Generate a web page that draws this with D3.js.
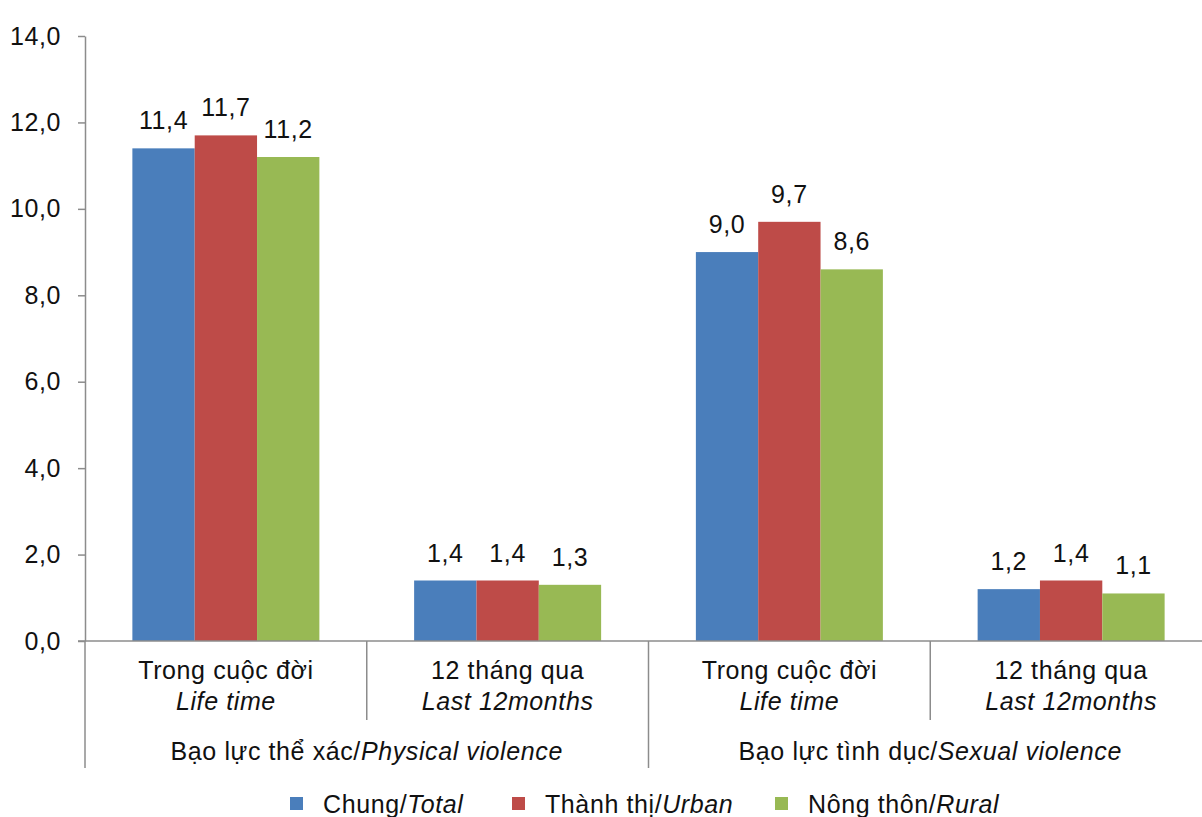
<!DOCTYPE html>
<html>
<head>
<meta charset="utf-8">
<script src="https://cdn.jsdelivr.net/npm/d3@7/dist/d3.min.js"></script>
<style>
  html, body { margin: 0; padding: 0; background: #fff; }
  svg { display: block; font-family: "Liberation Sans", Arial, sans-serif; }
  text { fill: #111; letter-spacing: 0.6px; }
</style>
</head>
<body>
<svg id="chart" width="1202" height="817"></svg>
<script>
// Violence prevalence (%), by period and area
const groups = [
  { vi: "Bạo lực thể xác/", en: "Physical violence" },
  { vi: "Bạo lực tình dục/", en: "Sexual violence" }
];
const periods = [
  { vi: "Trong cuộc đời", en: "Life time" },
  { vi: "12 tháng qua", en: "Last 12months" },
  { vi: "Trong cuộc đời", en: "Life time" },
  { vi: "12 tháng qua", en: "Last 12months" }
];
const seriesNames = [
  { vi: "Chung/", en: "Total" },
  { vi: "Thành thị/", en: "Urban" },
  { vi: "Nông thôn/", en: "Rural" }
];
const totalValues = [11.4, 1.4, 9.0, 1.2];
const urbanValues = [11.7, 1.4, 9.7, 1.4];
const ruralValues = [11.2, 1.3, 8.6, 1.1];
const yTicks = [0, 2, 4, 6, 8, 10, 12, 14];

const colors = ["#4A7EBB", "#BE4B48", "#98B954"];
const seriesValues = [totalValues, urbanValues, ruralValues];

const svg = d3.select("#chart");
const fmt = v => d3.format(".1f")(v).replace(".", ",");
const fontSize = 25;

const plotLeft = 85, plotRight = 1212, plotTop = 36, plotBottom = 641;
const y = d3.scaleLinear().domain([0, 14]).range([plotBottom, plotTop]);
const x0 = d3.scaleBand().domain(d3.range(periods.length)).range([plotLeft, plotRight]);
const x1 = d3.scaleBand().domain(d3.range(seriesNames.length))
  .range([0, x0.bandwidth()]).paddingInner(0).paddingOuter(0.76);
const axisColor = "#8c8c8c";

// y axis
const yAxis = svg.append("g")
  .attr("transform", `translate(${plotLeft},0)`)
  .call(d3.axisLeft(y).tickValues(yTicks).tickFormat(fmt).tickSize(7).tickSizeOuter(0).tickPadding(17));
yAxis.select(".domain").attr("stroke", axisColor).attr("stroke-width", 1.5);
yAxis.selectAll(".tick line").attr("stroke", axisColor).attr("stroke-width", 1.5);
yAxis.selectAll(".tick text").attr("font-size", fontSize).attr("fill", "#111")
  .attr("font-family", "'Liberation Sans', Arial, sans-serif");

// bars
const barGroups = svg.append("g").selectAll("g")
  .data(periods.map((p, i) => i))
  .join("g")
  .attr("transform", i => `translate(${x0(i)},0)`);

barGroups.selectAll("rect")
  .data(i => seriesValues.map((vals, s) => ({ s, v: vals[i] })))
  .join("rect")
  .attr("x", d => x1(d.s))
  .attr("width", x1.bandwidth())
  .attr("y", d => y(d.v))
  .attr("height", d => y(0) - y(d.v))
  .attr("fill", d => colors[d.s]);

barGroups.selectAll("text.val")
  .data(i => seriesValues.map((vals, s) => ({ s, v: vals[i] })))
  .join("text")
  .attr("class", "val")
  .attr("x", d => x1(d.s) + x1.bandwidth() / 2)
  .attr("y", d => y(d.v) - 19)
  .attr("text-anchor", "middle")
  .attr("font-size", fontSize)
  .text(d => fmt(d.v));

// category axis line
svg.append("line")
  .attr("x1", plotLeft - 7).attr("x2", plotRight)
  .attr("y1", y(0)).attr("y2", y(0))
  .attr("stroke", axisColor).attr("stroke-width", 1.5);

// dividers between periods (short) and between groups (long)
const bounds = d3.range(periods.length + 1).map(i => i < periods.length ? x0(i) : plotRight);
svg.append("g").selectAll("line")
  .data(bounds.map((b, i) => ({ b, long: i % 2 === 0 })))
  .join("line")
  .attr("x1", d => d.b).attr("x2", d => d.b)
  .attr("y1", y(0)).attr("y2", d => d.long ? 768 : 720)
  .attr("stroke", axisColor).attr("stroke-width", 1.5);

// period labels
const pl = svg.append("g").selectAll("g")
  .data(periods.map((p, i) => ({ p, i })))
  .join("g");
pl.append("text")
  .attr("x", d => x0(d.i) + x0.bandwidth() / 2)
  .attr("y", 679)
  .attr("text-anchor", "middle")
  .attr("font-size", fontSize)
  .text(d => d.p.vi);
pl.append("text")
  .attr("x", d => x0(d.i) + x0.bandwidth() / 2)
  .attr("y", 710)
  .attr("text-anchor", "middle")
  .attr("font-size", fontSize)
  .attr("font-style", "italic")
  .text(d => d.p.en);

// group labels
const gl = svg.append("g").selectAll("text")
  .data(groups.map((g, i) => ({ g, i })))
  .join("text")
  .attr("x", d => (x0(d.i * 2) + (d.i * 2 + 2 < periods.length ? x0(d.i * 2 + 2) : plotRight)) / 2)
  .attr("y", 760)
  .attr("text-anchor", "middle")
  .attr("font-size", fontSize);
gl.append("tspan").text(d => d.g.vi);
gl.append("tspan").attr("font-style", "italic").text(d => d.g.en);

// legend
const legendX = [290, 512, 775];
const lg = svg.append("g").selectAll("g")
  .data(seriesNames.map((s, i) => ({ s, i })))
  .join("g")
  .attr("transform", d => `translate(${legendX[d.i]},0)`);
lg.append("rect")
  .attr("x", 0).attr("y", 797).attr("width", 13).attr("height", 13)
  .attr("fill", d => colors[d.i]);
const lt = lg.append("text")
  .attr("x", 33).attr("y", 813)
  .attr("font-size", fontSize);
lt.append("tspan").text(d => d.s.vi);
lt.append("tspan").attr("font-style", "italic").text(d => d.s.en);
</script>
</body>
</html>
